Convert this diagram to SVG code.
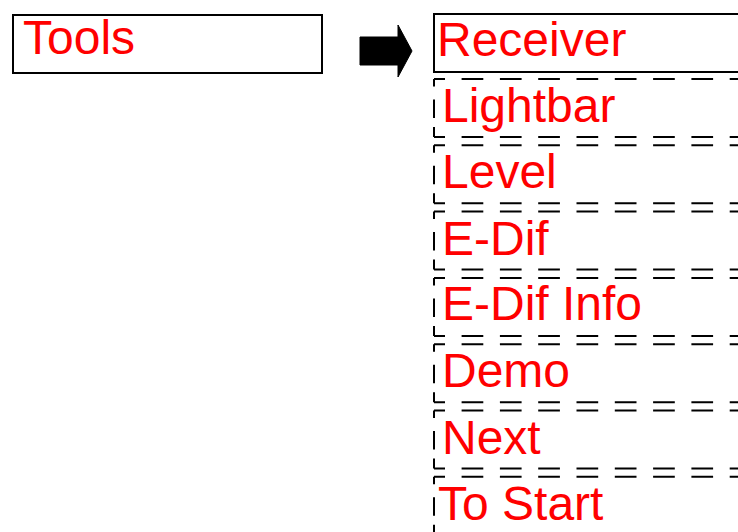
<svg xmlns="http://www.w3.org/2000/svg" width="738" height="532" viewBox="0 0 738 532">
  <style>
    .lbl { font-family: "Liberation Sans", Arial, sans-serif; font-size: 48px; fill: #ff0000; }
    .solid { fill: #ffffff; stroke: #000000; stroke-width: 2; }
    .hdash { fill: none; stroke: #000000; stroke-width: 2; stroke-dasharray: 21.7 16.6; stroke-dashoffset: 10.7; }
    .vdash { fill: none; stroke: #000000; stroke-width: 2; stroke-dasharray: 7.5 13 18.5 9 10; }
  </style>
  <rect width="738" height="532" fill="#ffffff"/>

  <g id="tools">
    <rect class="solid" x="13" y="15" width="309" height="58"/>
    <text class="lbl" x="23" y="54">Tools</text>
  </g>

  <g id="connectors">
    <polygon points="360,37 398,37 398,25 412,51 398,77 398,65 360,65" fill="#000000" stroke="#000000" stroke-width="1" stroke-linejoin="round"/>
  </g>

  <g id="receiver">
    <rect class="solid" x="434" y="14" width="330" height="58"/>
    <text class="lbl" x="437" y="56">Receiver</text>
  </g>

  <g id="lightbar" transform="translate(0,79)">
    <path class="hdash" d="M434,0 H760 M434,58 H760"/>
    <path class="vdash" d="M434,0 V58"/>
    <text class="lbl" x="442" y="43">Lightbar</text>
  </g>

  <g id="level" transform="translate(0,145.3)">
    <path class="hdash" d="M434,0 H760 M434,58 H760"/>
    <path class="vdash" d="M434,0 V58"/>
    <text class="lbl" x="442" y="43">Level</text>
  </g>

  <g id="edif" transform="translate(0,211.6)">
    <path class="hdash" d="M434,0 H760 M434,58 H760"/>
    <path class="vdash" d="M434,0 V58"/>
    <text class="lbl" x="442" y="43">E-Dif</text>
  </g>

  <g id="edif-info" transform="translate(0,277.9)">
    <path class="hdash" d="M434,0 H760 M434,58 H760"/>
    <path class="vdash" d="M434,0 V58"/>
    <text class="lbl" x="442" y="42">E-Dif Info</text>
  </g>

  <g id="demo" transform="translate(0,344.2)">
    <path class="hdash" d="M434,0 H760 M434,58 H760"/>
    <path class="vdash" d="M434,0 V58"/>
    <text class="lbl" x="442" y="43">Demo</text>
  </g>

  <g id="next" transform="translate(0,410.5)">
    <path class="hdash" d="M434,0 H760 M434,58 H760"/>
    <path class="vdash" d="M434,0 V58"/>
    <text class="lbl" x="442" y="43">Next</text>
  </g>

  <g id="to-start" transform="translate(0,476.8)">
    <path class="hdash" d="M434,0 H760 M434,58 H760"/>
    <path class="vdash" d="M434,0 V58"/>
    <text class="lbl" x="438" y="43">To Start</text>
  </g>
</svg>
